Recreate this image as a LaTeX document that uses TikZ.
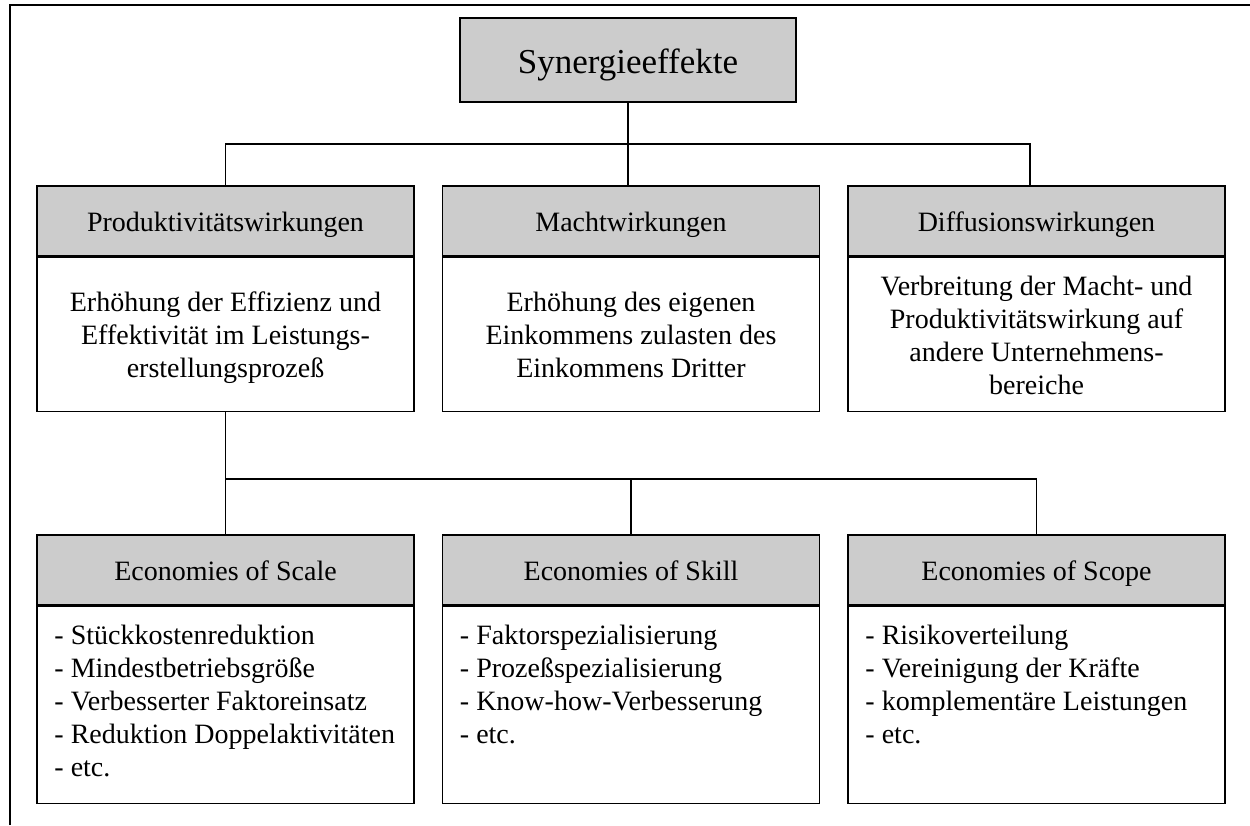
\documentclass[tikz,border=0pt]{standalone}
\usepackage{fontspec}
\setmainfont{Liberation Serif}[Ligatures={TeX,NoCommon}]
\usetikzlibrary{calc}

% line strut: 26.5pt above and 6.5pt below the baseline (33pt in total)
\newcommand\ls{\rule[-6.5pt]{0pt}{33pt}}

\definecolor{hdrgray}{RGB}{204,204,204}

\tikzset{
  boxline/.style={draw=black, line width=1.5pt},
  hdrbox/.style={boxline, fill=hdrgray, minimum width=377pt, minimum height=70pt,
    inner sep=0pt, text height=28pt, text depth=8pt,
    font=\fontsize{28}{33}\selectfont},
  topbox/.style={boxline, fill=hdrgray, minimum width=336pt, minimum height=84pt,
    inner sep=0pt, text height=34pt, text depth=8pt,
    font=\fontsize{35}{40}\selectfont},
  bodybox/.style={boxline, fill=white, minimum width=377pt, inner sep=0pt,
    align=center, font=\fontsize{28}{33}\selectfont},
  listtext/.style={anchor=north west, inner sep=0pt, align=left,
    font=\fontsize{28}{33}\selectfont},
  conn/.style={draw=black, line width=1.5pt},
  frameline/.style={draw=black, line width=2.5pt}
}

\begin{document}
\begin{tikzpicture}[x=1pt, y=-1pt]
\useasboundingbox (0,0) rectangle (1250,825);

% outer frame (top and left edges)
\draw[frameline] (10,825) -- (10,5) -- (1250,5);

% root
\node[topbox] (top) at (628,60) {Synergieeffekte};

% second level: header + description
\node[hdrbox] (pA) at (225.5,221) {Produktivitätswirkungen};
\node[hdrbox] (pB) at (631,221) {Machtwirkungen};
\node[hdrbox] (pC) at (1036.5,221) {Diffusionswirkungen};

\node[bodybox, minimum height=154pt, anchor=north] (bA) at (pA.south)
  {\ls Erhöhung der Effizienz und\\ \ls Effektivität im Leistungs-\\ \ls erstellungsprozeß};
\node[bodybox, minimum height=154pt, anchor=north] (bB) at (pB.south)
  {\ls Erhöhung des eigenen\\ \ls Einkommens zulasten des\\ \ls Einkommens Dritter};
\node[bodybox, minimum height=154pt, anchor=north] (bC) at (pC.south)
  {\ls Verbreitung der Macht- und\\ \ls Produktivitätswirkung auf\\ \ls andere Unternehmens-\\ \ls bereiche};

% third level: economies
\node[hdrbox] (eA) at (225.5,570) {Economies of Scale};
\node[hdrbox] (eB) at (631,570) {Economies of Skill};
\node[hdrbox] (eC) at (1036.5,570) {Economies of Scope};

\node[bodybox, minimum height=197pt, anchor=north] (lA) at (eA.south) {};
\node[bodybox, minimum height=197pt, anchor=north] (lB) at (eB.south) {};
\node[bodybox, minimum height=197pt, anchor=north] (lC) at (eC.south) {};

\node[listtext] (tA) at ([xshift=18pt, yshift=-12.5pt]lA.north west)
  {\ls - Stückkostenreduktion\\ \ls - Mindestbetriebsgröße\\ \ls - Verbesserter Faktoreinsatz\\ \ls - Reduktion Doppelaktivitäten\\ \ls - etc.};
\node[listtext] (tB) at ([xshift=18pt, yshift=-12.5pt]lB.north west)
  {\ls - Faktorspezialisierung\\ \ls - Prozeßspezialisierung\\ \ls - Know-how-Verbesserung\\ \ls - etc.};
\node[listtext] (tC) at ([xshift=18pt, yshift=-12.5pt]lC.north west)
  {\ls - Risikoverteilung\\ \ls - Vereinigung der Kräfte\\ \ls - komplementäre Leistungen\\ \ls - etc.};

% connectors, upper tree
\coordinate (j1) at (628,144);
\draw[conn] (top.south) -- (top.south |- pB.north);
\draw[conn] (pA.north) |- (j1) -| ([xshift=-6.5pt]pC.north);

% connectors, lower tree
\coordinate (j2) at (631,479);
\draw[conn] (bA.south) -- (eA.north);
\draw[conn] (j2 -| eA.north) -- (j2 -| eC.north) -- (eC.north);
\draw[conn] (j2) -- (eB.north);
\end{tikzpicture}
\end{document}
